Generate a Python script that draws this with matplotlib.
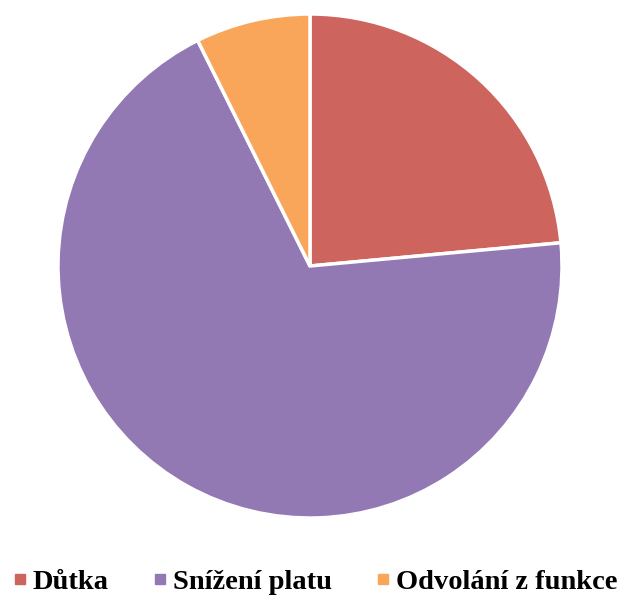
import matplotlib.pyplot as plt
from matplotlib.lines import Line2D

labels = ['Důtka', 'Snížení platu', 'Odvolání z funkce']
values = [16, 47, 5]
colors = ['#CD645E', '#9279B3', '#F9A65A']

fig = plt.figure(figsize=(6.26, 6.03), dpi=100)
W, H = 626, 603
cx, cy, r = 310, 266, 252
ax = fig.add_axes([(cx - r) / W, (H - cy - r) / H, 2 * r / W, 2 * r / H])

ax.pie(values, colors=colors, startangle=90, counterclock=False,
       wedgeprops=dict(edgecolor='white', linewidth=2.5))
ax.set_xlim(-1, 1)
ax.set_ylim(-1, 1)
ax.set_aspect('equal')
ax.axis('off')

handles = [Line2D([0], [0], marker='s', linestyle='', markersize=7.5,
                  markerfacecolor=c, markeredgecolor=c) for c in colors]
fig.legend(handles, labels, loc='center', bbox_to_anchor=(316 / W, 1 - 582 / H), ncol=3,
           frameon=False, handlelength=0.4, handletextpad=0.25, columnspacing=1.6,
           borderpad=0, borderaxespad=0,
           prop={'family': 'Liberation Serif', 'weight': 'bold', 'size': 20.5})

fig.savefig('out.png', dpi=100)
